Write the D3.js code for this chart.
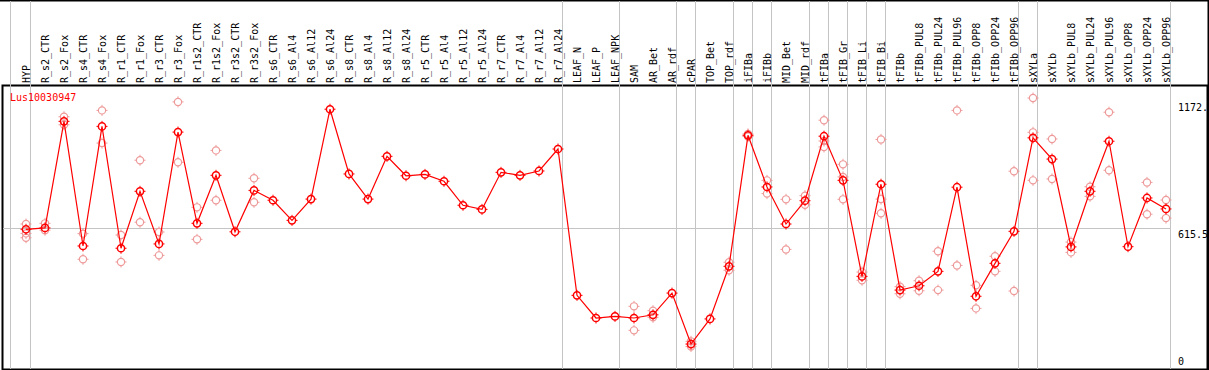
<!DOCTYPE html>
<html lang="en">
<head>
<meta charset="UTF-8">
<title>Lus10030947</title>
<script src="https://d3js.org/d3.v7.min.js"></script>
<style>
  body { margin: 0; background: #fff; }
  svg { display: block; }
  text { font-family: "DejaVu Sans Mono", monospace; font-size: 10px; }
</style>
</head>
<body>
<div id="chart"></div>
<script>
const geneName = "Lus10030947";

const labels = ["HYP","R_s2_CTR","R_s2_Fox","R_s4_CTR","R_s4_Fox","R_r1_CTR","R_r1_Fox","R_r3_CTR","R_r3_Fox",
  "R_r1s2_CTR","R_r1s2_Fox","R_r3s2_CTR","R_r3s2_Fox","R_s6_CTR","R_s6_Al4","R_s6_Al12","R_s6_Al24",
  "R_s8_CTR","R_s8_Al4","R_s8_Al12","R_s8_Al24","R_r5_CTR","R_r5_Al4","R_r5_Al12","R_r5_Al24",
  "R_r7_CTR","R_r7_Al4","R_r7_Al12","R_r7_Al24","LEAF_N","LEAF_P","LEAF_NPK","SAM","AR_Bet","AR_rdf",
  "cPAR","TOP_Bet","TOP_rdf","iFIBa","iFIBb","MID_Bet","MID_rdf","tFIBa","tFIB_Gr","tFIB_Li","tFIB_Bi",
  "tFIBb","tFIBb_PUL8","tFIBb_PUL24","tFIBb_PUL96","tFIBb_OPP8","tFIBb_OPP24","tFIBb_OPP96",
  "sXYLa","sXYLb","sXYLb_PUL8","sXYLb_PUL24","sXYLb_PUL96","sXYLb_OPP8","sXYLb_OPP24","sXYLb_OPP96"];

// mean expression per sample
const means = [611,617,1083,538,1061,528,777,547,1036,637,847,600,781,738,650,743,1136,853,743,930,
  845,851,821,716,698,860,847,866,962,322,223,230,223,237,332,109,219,449,1022,796,634,736,1018,825,
  405,808,345,364,427,795,318,462,602,1011,918,534,777,996,535,748,700];

// individual replicates (only the ones that show apart from the mean)
const reps = [[634,593,574],[637,607],[1103,1068],[592,480],[1131,988],[586,468],[913,642],[599,497],
  [1168,904],[707,567],[956,738],[],[834,729],[],[],[],[],[],[],[],[],[],[],[],[],[],[],[],[],[],[],[],
  [274,169],[255,226],[],[121,98],[],[467,432],[1028,1017],[825,767],[742,523],[758,718],[1088,971,997],
  [895,742,840],[424,388],[1004,743,681],[360,329],[386,342],[515,345],[1131,453],[366,265],[493,427],
  [865,341],[1185,1035,825],[1006,831],[555,510],[797,755],[1123,869],[],[816,677],[739,660]];

// group separators drawn just after these samples
const groupEnds = ["HYP","R_r7_Al24","LEAF_NPK","AR_rdf","cPAR","TOP_rdf","iFIBa","iFIBb","MID_rdf",
  "tFIBa","tFIB_Gr","tFIB_Li","tFIB_Bi","tFIBb_OPP96","sXYLa","sXYLb_OPP96"];

const yLabels = [0, 615.5, 1172];
const refValue = 615.5;

const w = 1209, h = 370;
const plotTop = 85, plotBottom = 369, plotLeft = 2, plotRight = 1208;

const x = d3.scalePoint().domain(labels).range([26, 26 + 19 * (labels.length - 1)]);
const y = d3.scaleLinear().domain([0, 1172]).range([plotBottom, 101]);

const svg = d3.select("#chart").append("svg")
  .attr("width", w)
  .attr("height", h);

// frame
svg.append("line").attr("x1", 0).attr("x2", w).attr("y1", 0.5).attr("y2", 0.5)
  .attr("stroke", "#000").attr("stroke-width", 2);
svg.append("rect")
  .attr("x", plotLeft + 0.5).attr("y", plotTop + 0.5)
  .attr("width", plotRight - plotLeft - 1).attr("height", plotBottom - plotTop)
  .attr("fill", "none").attr("stroke", "#000").attr("stroke-width", 2);
svg.append("line").attr("x1", plotRight + 0.5).attr("x2", plotRight + 0.5).attr("y1", 0).attr("y2", h)
  .attr("stroke", "#000").attr("stroke-width", 2);

// separators
const sepX = [x("HYP") - 15.5].concat(groupEnds.map(d => Math.round(x(d) + 4) + 0.5));
svg.selectAll("line.sep")
  .data(sepX)
  .enter()
  .append("line")
  .attr("class", "sep")
  .attr("x1", d => d).attr("x2", d => d)
  .attr("y1", 1).attr("y2", plotBottom)
  .attr("stroke", "#c4c4c4").attr("stroke-width", 1);

// reference line
svg.append("line")
  .attr("x1", plotLeft + 1).attr("x2", x("sXYLb_OPP96") + 4.5)
  .attr("y1", Math.round(y(refValue)) + 0.5).attr("y2", Math.round(y(refValue)) + 0.5)
  .attr("stroke", "#c4c4c4").attr("stroke-width", 1);

// sample labels
svg.selectAll("text.lab")
  .data(labels)
  .enter()
  .append("text")
  .attr("class", "lab")
  .attr("transform", d => "translate(" + (x(d) + 4) + "," + 83 + ") rotate(-90)")
  .attr("fill", "#000")
  .text(d => d);

// y labels
svg.selectAll("text.ylab")
  .data(yLabels)
  .enter()
  .append("text")
  .attr("class", "ylab")
  .attr("x", 1178)
  .attr("y", d => Math.min(y(d) + 9.5, 365))
  .attr("fill", "#000")
  .text(d => d === 1172 ? "1172." : d);

svg.append("text")
  .attr("x", 10).attr("y", 101)
  .attr("fill", "#ff0000")
  .text(geneName);

function marker(g, color, sw) {
  g.append("circle").attr("r", 3.6).attr("fill", "none").attr("stroke", color).attr("stroke-width", sw);
  g.append("path")
    .attr("d", "M0,-5.5V-3.6M0,3.6V5.5M-5.5,0H-3.6M3.6,0H5.5")
    .attr("stroke", color).attr("stroke-width", 1);
}

// replicate points
const repPts = [];
reps.forEach((r, i) => r.forEach(v => repPts.push({ s: labels[i], v: v })));
svg.append("g").selectAll("g")
  .data(repPts)
  .enter()
  .append("g")
  .attr("transform", d => "translate(" + x(d.s) + "," + y(d.v) + ")")
  .each(function() { marker(d3.select(this), "#ee9a9a", 1.2); });

// mean line
const line = d3.line().x((d, i) => x(labels[i])).y(d => y(d));
svg.append("path")
  .datum(means)
  .attr("d", line)
  .attr("fill", "none")
  .attr("stroke", "#ff0000")
  .attr("stroke-width", 1.2);

svg.append("g").selectAll("g")
  .data(means)
  .enter()
  .append("g")
  .attr("transform", (d, i) => "translate(" + x(labels[i]) + "," + y(d) + ")")
  .each(function() { marker(d3.select(this), "#ff0000", 1.5); });
</script>
</body>
</html>
